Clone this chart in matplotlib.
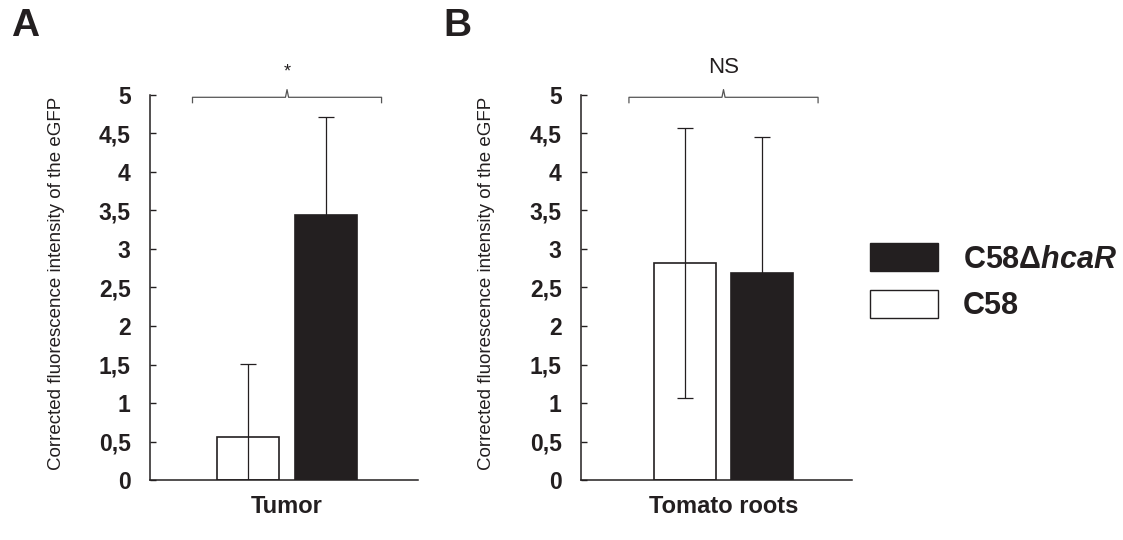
import matplotlib
matplotlib.use("Agg")
import matplotlib.pyplot as plt
from matplotlib.patches import Patch

plt.rcParams['font.family'] = ['Liberation Sans', 'DejaVu Sans']
plt.rcParams['mathtext.fontset'] = 'custom'
plt.rcParams['mathtext.it'] = 'Liberation Sans:italic:bold'
plt.rcParams['mathtext.rm'] = 'Liberation Sans:bold'

# data
panels = ["A", "B"]
categories = ["Tumor", "Tomato roots"]
wt_means = [0.56, 2.82]      # C58 (white)
wt_err = [0.95, 1.75]
mut_means = [3.44, 2.69]     # C58ΔhcaR (black)
mut_err = [1.28, 1.77]
signif = ["*", "NS"]

y_ticks = [0, 0.5, 1, 1.5, 2, 2.5, 3, 3.5, 4, 4.5, 5]
y_tick_labels = ["0", "0,5", "1", "1,5", "2", "2,5", "3", "3,5", "4", "4,5", "5"]
y_label = "Corrected fluorescence intensity of the eGFP"

dark = "#231f20"

fig = plt.figure(figsize=(11.23, 5.4), dpi=100)
ax_pos = [[0.1336, 0.1111, 0.2386, 0.713],
          [0.5174, 0.1111, 0.2413, 0.713]]
xlims = [(-0.884, 0.845), (-0.919, 0.829)]
label_x = [25 / 1123, 457 / 1123]

for i in range(2):
    ax = fig.add_axes(ax_pos[i])
    ax.bar(-0.25, wt_means[i], width=0.4, color="white", edgecolor=dark, linewidth=1.2, zorder=2)
    ax.bar(0.25, mut_means[i], width=0.4, color=dark, edgecolor=dark, linewidth=1.2, zorder=2)
    ax.errorbar([-0.25, 0.25], [wt_means[i], mut_means[i]], yerr=[wt_err[i], mut_err[i]],
                fmt="none", ecolor=dark, elinewidth=0.9, capsize=5.5, capthick=0.9, zorder=3)

    ax.set_ylim(0, 5)
    ax.set_xlim(*xlims[i])
    ax.set_yticks(y_ticks)
    ax.set_yticklabels(y_tick_labels, fontsize=16.5, fontweight="bold")
    ax.tick_params(axis="y", direction="in", length=4, width=1.0, pad=14, colors=dark)
    ax.set_xticks([0])
    ax.set_xticklabels([categories[i]], fontsize=17, fontweight="bold")
    ax.tick_params(axis="x", length=0, pad=11, colors=dark)
    for s in ["top", "right"]:
        ax.spines[s].set_visible(False)
    for s in ["left", "bottom"]:
        ax.spines[s].set_linewidth(1.1)
        ax.spines[s].set_color(dark)

    ax.set_ylabel(y_label, fontsize=13.5, color=dark)
    ax.yaxis.set_label_coords(-0.317, 0.51)

    # significance bracket
    ax.plot([-0.61, -0.61, -0.01, 0.0, 0.01, 0.61, 0.61],
            [4.90, 4.97, 4.97, 5.07, 4.97, 4.97, 4.90],
            color="#555555", linewidth=0.9, clip_on=False)
    ax.text(0, 5.3 if signif[i] == "*" else 5.36, signif[i], ha="center", va="center",
            fontsize=13 if signif[i] == "*" else 16, color=dark)

    fig.text(label_x[i], 1 - 26 / 540, panels[i], fontsize=28, fontweight="bold",
             ha="center", va="center", color=dark)

handles = [Patch(facecolor=dark, edgecolor=dark, linewidth=1.0),
           Patch(facecolor="white", edgecolor=dark, linewidth=1.0)]
labels = [r"C58Δ$\mathit{hcaR}$", "C58"]
leg = fig.legend(handles, labels, loc="upper left", bbox_to_anchor=(870 / 1123, 1 - 243 / 540),
                 frameon=False, borderpad=0, borderaxespad=0, handlelength=2.22,
                 handleheight=1.05, labelspacing=0.5, handletextpad=0.82,
                 prop={"size": 22, "weight": "bold"})
for t in leg.get_texts():
    t.set_color(dark)

fig.savefig("out.png", dpi=100)
